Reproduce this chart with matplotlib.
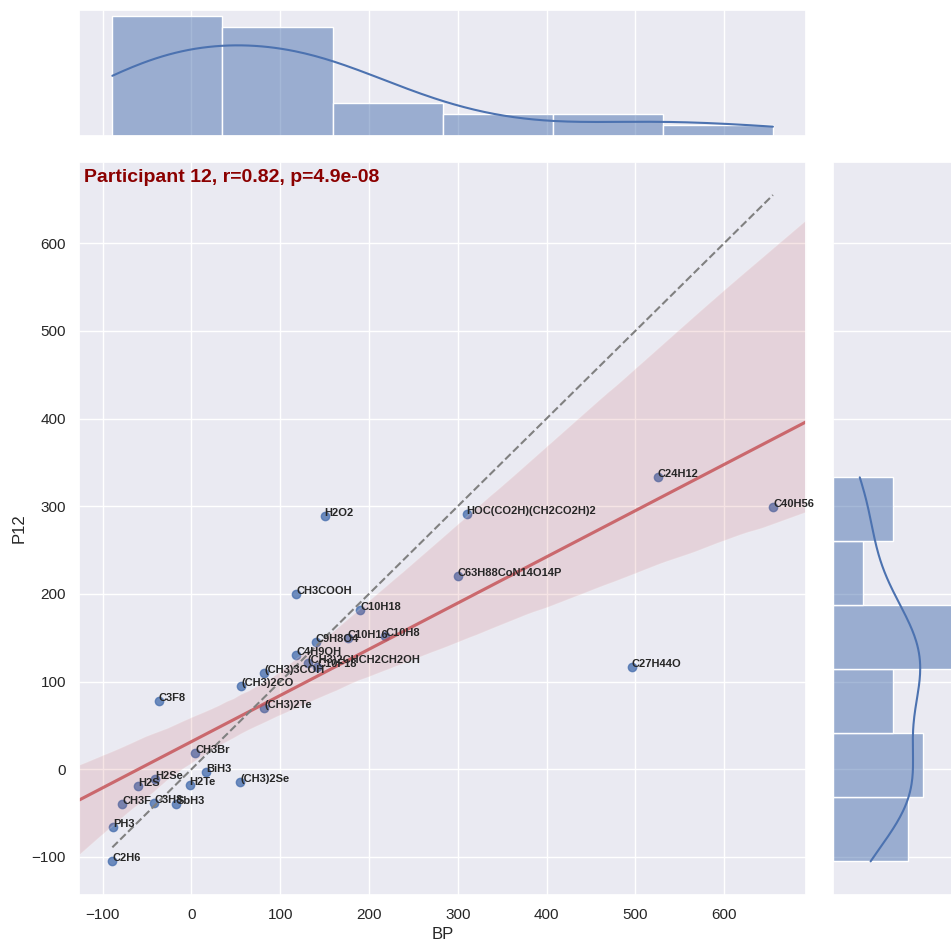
import numpy as np
import pandas as pd
import matplotlib
matplotlib.use("Agg")
import matplotlib.pyplot as plt
import seaborn as sns

# compound names, boiling points and participant 12 estimates
names = ["C2H6", "PH3", "CH3F", "C3H8", "SbH3", "H2S", "H2Se", "H2Te", "BiH3",
         "CH3Br", "(CH3)2Se", "C3F8", "(CH3)2Te", "(CH3)2CO", "(CH3)3COH",
         "C4H9OH", "C9H8O4", "(CH3)2CHCH2CH2OH", "C10F18", "C10H16", "C10H8",
         "C10H18", "CH3COOH", "H2O2", "HOC(CO2H)(CH2CO2H)2", "C63H88CoN14O14P",
         "C27H44O", "C24H12", "C40H56"]
bp = [-89, -88, -78, -42, -17, -60, -41, -2, 17,
      4, 55, -37, 82, 56, 82,
      118, 140, 131, 142, 176, 218,
      190, 118, 150, 310, 300,
      496, 525, 655]
p12 = [-105, -66, -40, -39, -40, -19, -11, -18, -3,
       19, -14, 78, 70, 95, 110,
       130, 145, 121, 117, 150, 152,
       182, 200, 289, 291, 221,
       117, 333, 299]

title = "Participant 12, r=0.82, p=4.9e-08"

df = pd.DataFrame({"name": names, "BP": bp, "P12": p12})

sns.set_theme(style="darkgrid")
plt.rcParams["font.family"] = ["Liberation Sans", "DejaVu Sans"]

fig = plt.figure(figsize=(9.51, 9.39), dpi=100)
ax = fig.add_axes([0.0834, 0.0472, 0.7641, 0.7806])
ax_top = fig.add_axes([0.0834, 0.8552, 0.7641, 0.1342], sharex=ax)
ax_right = fig.add_axes([0.8756, 0.0472, 0.1325, 0.7806], sharey=ax)

# joint plot: scatter + regression with bootstrapped CI band
sns.regplot(data=df, x="BP", y="P12", ax=ax, truncate=False, seed=10,
            line_kws={"color": "r", "alpha": 0.8})

lo, hi = df.BP.min(), df.BP.max()
ax.plot([lo, hi], [lo, hi], "--", color="gray")

for i in range(len(df)):
    ax.text(df.BP[i] + 0.1, df.P12[i], df.name[i], fontsize=8, weight="bold")

ax.text(0.007, 0.99, title, transform=ax.transAxes, fontsize=14,
        weight="bold", color="darkred", va="top")
ax.set_xlabel("BP")
ax.set_ylabel("P12")

# marginals
sns.histplot(x=df.BP, ax=ax_top, kde=True, bins=6)
sns.histplot(y=df.P12, ax=ax_right, kde=True, bins=6)

for a in (ax_top, ax_right):
    a.set_xlabel("")
    a.set_ylabel("")
plt.setp(ax_top.get_xticklabels(), visible=False)
plt.setp(ax_top.get_yticklabels(), visible=False)
plt.setp(ax_right.get_xticklabels(), visible=False)
plt.setp(ax_right.get_yticklabels(), visible=False)
ax_top.yaxis.grid(False)
ax_right.xaxis.grid(False)

fig.savefig("out.png", dpi=100)
